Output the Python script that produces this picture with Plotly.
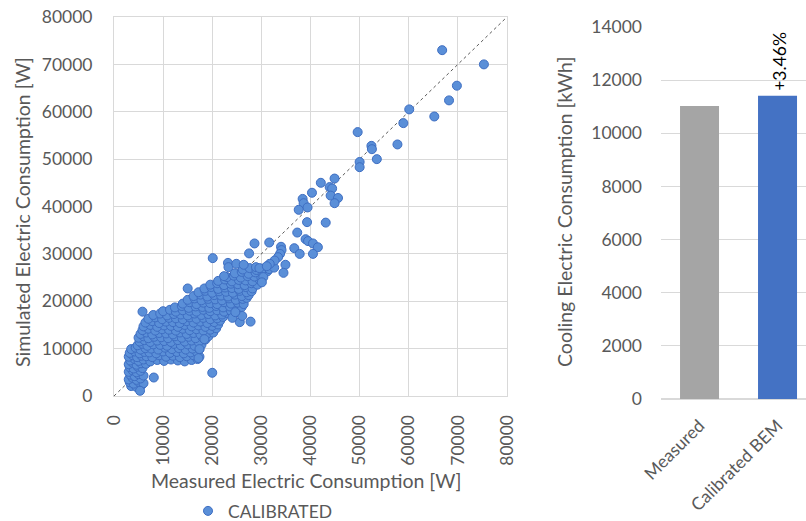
import plotly.graph_objects as go

# ---------------- Scatter data (W) ----------------
measured_w = [
    # dense cluster, row by row
    3500, 4600, 5600,
    3200, 4000, 5000, 6000,
    3000, 3800, 4600, 5400,
    3300, 4200, 5000, 6000,
    3000, 3800, 4600, 5400,
    3200, 4000, 4800, 5800,
    3000, 3800, 4600, 5500, 6500,
    3300, 4200, 5000, 6000, 7400, 8800, 10200, 11600, 13000, 14400, 15800, 17000,
    3000, 3800, 4700, 5600, 6600, 7800, 9200, 10600, 12000, 13400, 14800, 16200, 17400,
    3200, 4200, 5200, 6200, 7200, 8600, 10000, 11400, 12800, 14200, 15600, 16800,
    3500, 4400, 5400, 6400, 7600, 9000, 10400, 11800, 13200, 14600, 16000, 17400,
    4800, 5800, 6800, 8000, 9400, 10800, 12200, 13600, 15000, 16400, 17800,
    5200, 6200, 7400, 8800, 10200, 11600, 13000, 14400, 15800, 17200, 18600,
    5000, 6000, 7000, 8200, 9600, 11000, 12400, 13800, 15200, 16600, 18000, 19200,
    5400, 6600, 7800, 9200, 10600, 12000, 13400, 14800, 16200, 17600, 19000, 20200,
    5800, 7000, 8400, 9800, 11200, 12600, 14000, 15400, 16800, 18200, 19600, 20800,
    6000, 7400, 8800, 10200, 11600, 13000, 14400, 15800, 17200, 18600, 20000, 21200,
    6400, 7800, 9200, 10600, 12000, 13400, 14800, 16200, 17600, 19000, 20400, 21600,
    7000, 8400, 9800, 11200, 12600, 14000, 15400, 16800, 18200, 19600, 21000, 22200,
    8000, 9400, 10800, 12200, 13600, 15000, 16400, 17800, 19200, 20600, 22000, 23200, 24400,
    10000, 11400, 12600, 14000, 15400, 16800, 18200, 19600, 21000, 22400, 23800, 25000,
    12400, 13800, 15200, 16600, 18000, 19400, 20800, 22200, 23600, 25000, 26000,
    14000, 15400, 16800, 18200, 19600, 21000, 22400, 23800, 25200, 26400,
    15000, 16400, 17800, 19200, 20600, 22000, 23400, 24800, 26200, 27000,
    16200, 17600, 19000, 20400, 21800, 23200, 24600, 26000, 27400,
    17200, 18600, 20000, 21400, 22800, 24200, 25600, 27000, 28000,
    18400, 19800, 21200, 22600, 24000, 25400, 26800, 28200,
    19600, 21000, 22400, 23800, 25200, 26600, 28000, 29200,
    21200, 22600, 24000, 25400, 26800, 28200, 29600,
    23000, 24400, 25800, 27200, 28600, 30000,
    24600, 26000, 27400, 28800, 30200, 31200,
    26200, 27600, 29000, 30400, 31600, 32600,
    # sparse / outlying points
    66800, 75300, 69800, 68200, 60100, 65200, 58900, 49600, 57700, 52400,
    52500, 53500, 50000, 50000, 42100, 44900, 43900, 44400, 44100, 45600,
    44900, 40300, 38400, 38600, 39400, 37600, 39300, 43100, 37300, 39000,
    39500, 40500, 41500, 36700, 37800, 40500, 34000, 34100, 31600, 28600,
    27500, 20100, 33800, 33400, 32700, 31700, 34900, 34500, 23200, 23300,
    24900, 26400, 28900, 29600, 31100, 30400, 30100, 22400, 15000, 5800,
    20000, 8100, 5300, 27800, 25600, 24100, 26100, 24700, 17200, 17400,
    18400,
]
simulated_w = [
    2100, 1900, 2300,
    2900, 2600, 3000, 2700,
    3500, 3800, 3400, 3700,
    4500, 4200, 4600, 4300,
    5100, 5400, 5000, 5300,
    6100, 5800, 6200, 5900,
    6700, 7000, 6600, 6900, 6800,
    7500, 7800, 7400, 7700, 7300, 7600, 7400, 7700, 7500, 7300, 7600, 7800,
    8300, 8600, 8200, 8500, 8400, 8200, 8600, 8300, 8500, 8200, 8400, 8600, 8300,
    9100, 9400, 9000, 9300, 9200, 9000, 9400, 9100, 9300, 9000, 9200, 9400,
    9900, 10200, 9800, 10100, 10000, 9800, 10200, 9900, 10100, 9800, 10000, 9900,
    10700, 11000, 10600, 10900, 10800, 10600, 11000, 10700, 10900, 10600, 10800,
    11500, 11800, 11400, 11700, 11600, 11400, 11800, 11500, 11700, 11400, 11900,
    12300, 12600, 12200, 12500, 12400, 12200, 12600, 12300, 12500, 12200, 12400, 12600,
    13100, 13400, 13000, 13300, 13200, 13000, 13400, 13100, 13300, 13000, 13200, 13400,
    13900, 14200, 13800, 14100, 14000, 13800, 14200, 13900, 14100, 13800, 14000, 14300,
    14700, 15000, 14600, 14900, 14800, 14600, 15000, 14700, 14900, 14600, 14800, 15100,
    15500, 15800, 15400, 15700, 15600, 15400, 15800, 15500, 15700, 15400, 15600, 15900,
    16300, 16600, 16200, 16500, 16400, 16200, 16600, 16300, 16500, 16200, 16400, 16700,
    17100, 17400, 17000, 17300, 17200, 17000, 17400, 17100, 17300, 17000, 17200, 17500, 17300,
    17900, 18200, 17800, 18100, 18000, 17800, 18200, 17900, 18100, 17800, 18000, 18300,
    18700, 19000, 18600, 18900, 18800, 18600, 19000, 18700, 18900, 18600, 18800,
    19500, 19800, 19400, 19700, 19600, 19400, 19800, 19500, 19700, 19400,
    20300, 20600, 20200, 20500, 20400, 20200, 20600, 20300, 20500, 20700,
    21100, 21400, 21000, 21300, 21200, 21000, 21400, 21100, 21300,
    21900, 22200, 21800, 22100, 22000, 21800, 22200, 21900, 22100,
    22700, 23000, 22600, 22900, 22800, 22600, 23000, 22700,
    23500, 23800, 23400, 23700, 23600, 23400, 23800, 23500,
    24300, 24600, 24200, 24500, 24400, 24200, 24600,
    25100, 25400, 25000, 25300, 25200, 25000,
    25900, 26200, 25800, 26100, 26000, 26300,
    26700, 27000, 26600, 26900, 26800, 27100,
    73000, 70000, 65500, 62400, 60500, 59000, 57600, 55700, 53100, 52800,
    52100, 50000, 49400, 48300, 45000, 45900, 44100, 43800, 42300, 41800,
    40700, 42900, 41600, 40700, 39800, 39300, 36700, 36600, 34500, 33100,
    32700, 32200, 31400, 31200, 30000, 30000, 31500, 30800, 32400, 32200,
    30100, 29100, 30000, 29300, 28600, 27900, 27700, 26000, 28100, 27200,
    27900, 27700, 27200, 27000, 27400, 25100, 24000, 25300, 22700, 17800,
    4900, 3900, 1100, 15700, 15600, 16500, 16900, 17700, 8000, 9900,
    12000,
]
reference_line = [0, 80000]
scatter_ticks = [0, 10000, 20000, 30000, 40000, 50000, 60000, 70000, 80000]

# ---------------- Bar data (kWh) ----------------
bar_categories = ["Measured", "Calibrated BEM"]
bar_values = [11030, 11410]
bar_colors = ["#A5A5A5", "#4472C4"]
bar_label = "+3.46%"
bar_ticks = [0, 2000, 4000, 6000, 8000, 10000, 12000, 14000]

W, H = 806, 521
FONT = "Lato"
GREY = "#595959"
GRID = "#D9D9D9"
TICK = 17.5
TITLE = 19.5

fig = go.Figure()

fig.add_trace(go.Scatter(
    x=reference_line, y=reference_line, mode="lines",
    line=dict(color="#595959", width=1, dash="dot"),
    showlegend=False, hoverinfo="skip", xaxis="x", yaxis="y"))

fig.add_trace(go.Scatter(
    x=measured_w, y=simulated_w, mode="markers", name="CALIBRATED",
    marker=dict(size=9, color="#5A8FD8", line=dict(color="#3E6EC2", width=1)),
    xaxis="x", yaxis="y"))

fig.add_trace(go.Bar(
    x=bar_categories, y=bar_values, marker=dict(color=bar_colors, line=dict(width=0)),
    width=0.5, showlegend=False, xaxis="x2", yaxis="y2"))

fig.update_layout(
    width=W, height=H,
    margin=dict(l=0, r=0, t=0, b=0, autoexpand=False),
    paper_bgcolor="white", plot_bgcolor="white",
    font=dict(family=FONT, color=GREY, size=16),
    showlegend=True,
    legend=dict(orientation="h", x=188 / W, xanchor="left", y=1 - 511 / H, yanchor="middle",
                font=dict(size=17.5, color=GREY), itemsizing="trace", itemwidth=30,
                bgcolor="rgba(0,0,0,0)"),
    xaxis=dict(domain=[114 / W, 507 / W], range=[0, 80000], tickvals=scatter_ticks,
               tickformat="d", tickangle=-90, showgrid=True, gridcolor=GRID, gridwidth=1,
               zeroline=False, showline=True, linecolor=GRID, mirror=True, automargin=False,
               ticks="", ticklabelstandoff=11, anchor="y",
               tickfont=dict(size=TICK, color=GREY, family=FONT)),
    yaxis=dict(domain=[1 - 396 / H, 1 - 17 / H], range=[0, 80000], tickvals=scatter_ticks,
               tickformat="d", showgrid=True, gridcolor=GRID, gridwidth=1,
               zeroline=False, showline=True, linecolor=GRID, mirror=True, automargin=False,
               ticks="", ticklabelstandoff=17, anchor="x",
               tickfont=dict(size=TICK, color=GREY, family=FONT)),
    xaxis2=dict(domain=[661 / W, 1.0], range=[-0.494, 1.365], type="category",
                tickangle=-45, showgrid=False, zeroline=False, showline=False, automargin=False,
                ticks="", ticklabelstandoff=12, anchor="y2",
                tickfont=dict(size=TICK, color=GREY, family=FONT)),
    yaxis2=dict(domain=[1 - 399 / H, 1 - 27 / H], range=[0, 14000], tickvals=bar_ticks,
                tickformat="d", showgrid=True, gridcolor=GRID, gridwidth=1,
                zeroline=True, zerolinecolor=GRID, showline=False, ticks="", automargin=False,
                ticklabelstandoff=18, anchor="x2",
                tickfont=dict(size=TICK, color=GREY, family=FONT)),
    annotations=[
        dict(text="Simulated Electric Consumption [W]", x=23 / W, y=1 - 212 / H,
             xref="paper", yref="paper", showarrow=False, textangle=-90,
             xanchor="center", yanchor="middle", font=dict(size=TITLE, color=GREY)),
        dict(text="Measured Electric Consumption [W]", x=306 / W, y=1 - 480 / H,
             xref="paper", yref="paper", showarrow=False,
             xanchor="center", yanchor="middle", font=dict(size=TITLE, color=GREY)),
        dict(text="Cooling Electric Consumption [kWh]", x=565 / W, y=1 - 212 / H,
             xref="paper", yref="paper", showarrow=False, textangle=-90,
             xanchor="center", yanchor="middle", font=dict(size=TITLE, color=GREY)),
        dict(text=bar_label, x=bar_categories[1], y=bar_values[1], xref="x2", yref="y2",
             showarrow=False, textangle=-90, xanchor="center", yanchor="bottom",
             xshift=2, yshift=3, font=dict(size=TICK, color="#000000")),
    ],
)

fig.write_html("out.html")
